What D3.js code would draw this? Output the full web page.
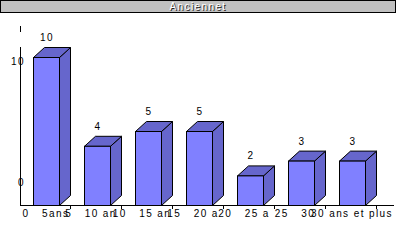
<!DOCTYPE html>
<html>
<head>
<meta charset="utf-8">
<script src="https://cdn.jsdelivr.net/npm/d3@7"></script>
<style>
  body { margin: 0; background: #fff; }
  svg { display: block; }
  text { font-family: "Liberation Sans", Arial, sans-serif; font-size: 10px; letter-spacing: 1.4px; white-space: pre; }
</style>
</head>
<body>
<svg id="chart" width="396" height="248"></svg>
<script>
// Chart data
const title = "Anciennet";
const categories = ["0-5", "5-10", "10-15", "15-20", "20-25", "25-30", "30+"];
const values = [10, 4, 5, 5, 2, 3, 3];
// x labels as they show up (clipped in the source)
const xLabels = ["0   5ans", "5   10 an", "10   15 an", "15   20 a", "20   25 a", "25   30", "30 ans et plus"];
const yTickValues = [0, 10];

const svg = d3.select("#chart");
const W = 396;

// Set up scales
const base = 205;
const x = d3.scaleBand().domain(categories).range([19, 376]).padding(0);
const y = d3.scaleLinear().domain([0, 10]).range([base, 57]);
// position of the printed y tick labels (they don't sit on the bar scale)
const yLab = d3.scaleLinear().domain([0, 10]).range([182, 61]);

const frontOff = x.bandwidth() * 14 / 51;
const frontW = x.bandwidth() * 26 / 51;
const dx = 11, dy = 10;

// Title bar
svg.append("rect")
  .attr("x", 0.5).attr("y", 0.5)
  .attr("width", W - 1).attr("height", 12)
  .attr("fill", "#c0c0c0")
  .attr("stroke", "#000");
svg.append("text")
  .attr("x", W / 2 + 1).attr("y", 11)
  .attr("text-anchor", "middle")
  .attr("fill", "#222")
  .text(title);
svg.append("text")
  .attr("x", W / 2).attr("y", 10)
  .attr("text-anchor", "middle")
  .attr("fill", "#fff")
  .text(title);

// Y axis line (with gap near the top)
svg.append("line").attr("x1", 20.5).attr("x2", 20.5).attr("y1", 26).attr("y2", 32).attr("stroke", "#000");
svg.append("line").attr("x1", 20.5).attr("x2", 20.5).attr("y1", 47).attr("y2", base).attr("stroke", "#000");

// X axis baseline + ticks
svg.append("line").attr("x1", 20).attr("x2", 394).attr("y1", base + 0.5).attr("y2", base + 0.5).attr("stroke", "#000");
svg.selectAll(".tick")
  .data(categories)
  .join("line")
  .attr("class", "tick")
  .attr("x1", d => x(d) + x.bandwidth() + 0.5)
  .attr("x2", d => x(d) + x.bandwidth() + 0.5)
  .attr("y1", base)
  .attr("y2", base + 4)
  .attr("stroke", "#000");

// Y tick labels
svg.selectAll(".ylab")
  .data(yTickValues)
  .join("text")
  .attr("class", "ylab")
  .attr("x", 25)
  .attr("y", d => yLab(d) + 4)
  .attr("text-anchor", "end")
  .attr("fill", "#000")
  .text(d => d);

// 3D bars
const bars = svg.selectAll(".bar")
  .data(categories.map((c, i) => ({ c, v: values[i] })))
  .join("g")
  .attr("class", "bar");

// side face
bars.append("path")
  .attr("fill", "#6666cc")
  .attr("stroke", "#000")
  .attr("stroke-linejoin", "round")
  .attr("d", d => {
    const fx = x(d.c) + frontOff + 0.5, t = y(d.v) + 0.5, r = fx + frontW;
    return `M${r},${t} L${r + dx},${t - dy} L${r + dx},${base - dy + 0.5} L${r},${base + 0.5} Z`;
  });

// top face
bars.append("path")
  .attr("fill", "#6666cc")
  .attr("stroke", "#000")
  .attr("stroke-linejoin", "round")
  .attr("d", d => {
    const fx = x(d.c) + frontOff + 0.5, t = y(d.v) + 0.5, r = fx + frontW;
    return `M${fx},${t} L${fx + dx},${t - dy} L${r + dx},${t - dy} L${r},${t} Z`;
  });

// front face
bars.append("rect")
  .attr("x", d => x(d.c) + frontOff + 0.5)
  .attr("y", d => y(d.v) + 0.5)
  .attr("width", frontW)
  .attr("height", d => base - y(d.v))
  .attr("fill", "#8080ff")
  .attr("stroke", "#000");

// Value labels
bars.append("text")
  .attr("x", d => x(d.c) + frontOff + frontW / 2 + 1)
  .attr("y", d => y(d.v) - 16)
  .attr("text-anchor", "middle")
  .attr("fill", "#000")
  .text(d => d.v);

// X labels
svg.selectAll(".xlab")
  .data(xLabels)
  .join("text")
  .attr("class", "xlab")
  .attr("x", (d, i) => x(categories[i]) + frontOff + frontW / 2 - (i > 0 && i < 6 ? 6 : 0))
  .attr("y", 217)
  .attr("text-anchor", "middle")
  .attr("fill", "#000")
  .text(d => d);
</script>
</body>
</html>
